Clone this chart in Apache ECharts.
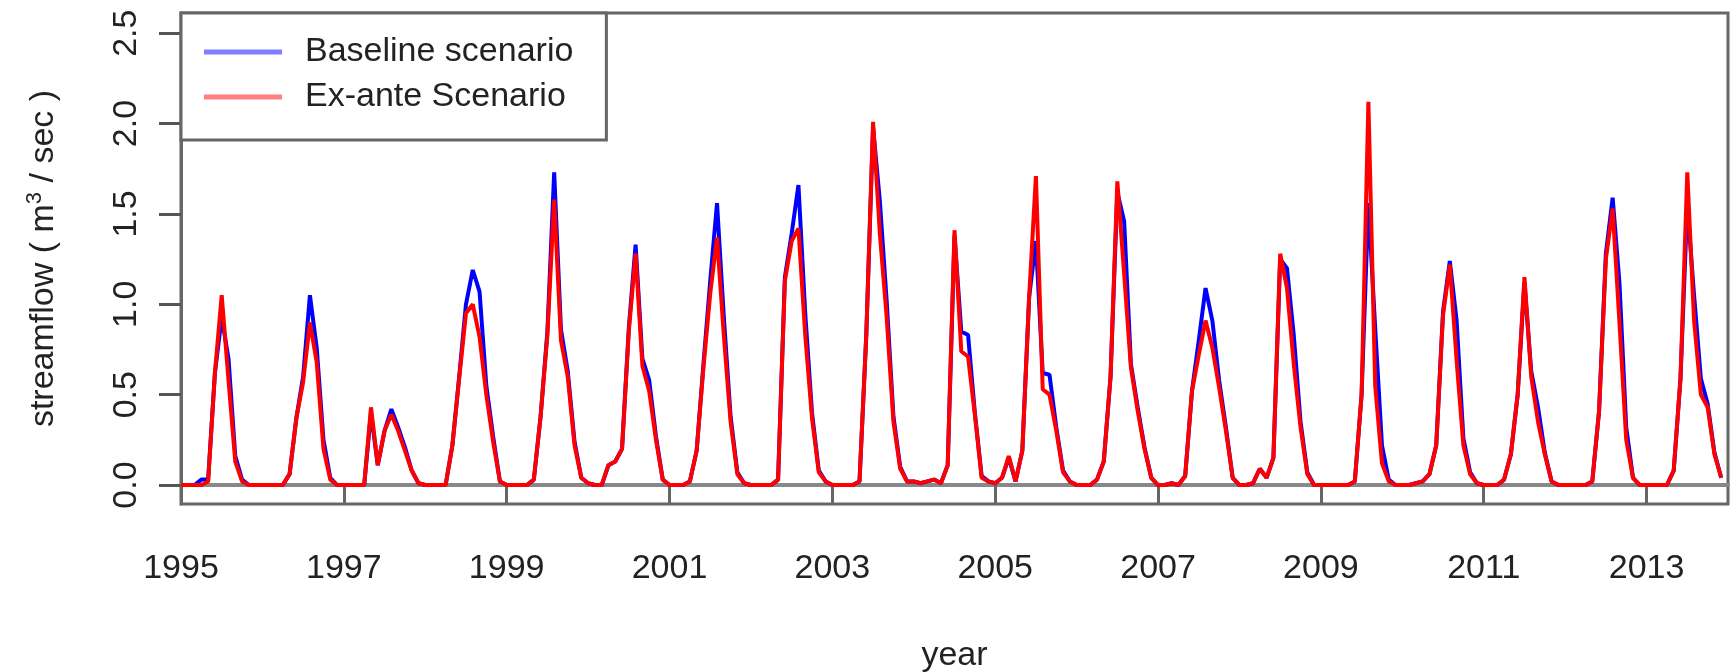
<!DOCTYPE html>
<html>
<head>
<meta charset="utf-8">
<script src="https://cdn.jsdelivr.net/npm/echarts@6/dist/echarts.min.js"></script>
<style>
html,body{margin:0;padding:0;background:#fff;}
#chart{width:1731px;height:672px;}
</style>
</head>
<body>
<div id="chart"></div>
<script>
// Monthly values, Jan 1995 .. Dec 2013
const startYear = 1995;
const baseline = [
  0,0,0,0.03,0.03,0.62,0.93,0.70,0.16,0.03,0,0,
  0,0,0,0,0.06,0.37,0.60,1.05,0.76,0.25,0.04,0,
  0,0,0,0,0.40,0.11,0.30,0.42,0.32,0.21,0.08,0.01,
  0,0,0,0,0.22,0.60,1.00,1.19,1.07,0.55,0.27,0.02,
  0,0,0,0,0.03,0.38,0.85,1.73,0.86,0.63,0.24,0.04,
  0.01,0,0,0.11,0.13,0.20,0.87,1.33,0.70,0.58,0.27,0.03,
  0,0,0,0.02,0.19,0.67,1.13,1.56,0.93,0.38,0.07,0.01,
  0,0,0,0,0.03,1.15,1.39,1.66,0.95,0.40,0.08,0.02,
  0,0,0,0,0.02,0.83,1.98,1.57,1.02,0.38,0.10,0.02,
  0.02,0.01,0.02,0.03,0.01,0.11,1.38,0.85,0.83,0.40,0.05,0.02,
  0.01,0.04,0.15,0.02,0.19,1.04,1.35,0.62,0.61,0.32,0.08,0.02,
  0,0,0,0.03,0.13,0.60,1.62,1.46,0.67,0.43,0.21,0.04,
  0,0,0.01,0,0.05,0.52,0.80,1.09,0.91,0.58,0.32,0.04,
  0,0,0.01,0.09,0.04,0.15,1.25,1.20,0.83,0.35,0.07,0,
  0,0,0,0,0,0.02,0.50,1.56,0.87,0.22,0.03,0,
  0,0,0.01,0.02,0.06,0.22,0.96,1.24,0.91,0.26,0.07,0.01,
  0,0,0,0.03,0.17,0.50,1.12,0.63,0.43,0.18,0.02,0,
  0,0,0,0,0.02,0.41,1.28,1.59,1.12,0.32,0.04,0,
  0,0,0,0,0.08,0.59,1.55,1.05,0.59,0.45,0.18,0.04
];
const exAnte = [
  0,0,0,0,0.02,0.62,1.05,0.58,0.13,0.02,0,0,
  0,0,0,0,0.06,0.37,0.57,0.90,0.68,0.20,0.03,0,
  0,0,0,0,0.43,0.11,0.30,0.39,0.30,0.19,0.08,0.01,
  0,0,0,0,0.22,0.59,0.95,1.00,0.82,0.50,0.24,0.02,
  0,0,0,0,0.03,0.38,0.83,1.58,0.80,0.60,0.22,0.04,
  0.01,0,0,0.11,0.13,0.20,0.85,1.28,0.66,0.52,0.25,0.03,
  0,0,0,0.02,0.19,0.65,1.06,1.37,0.83,0.35,0.06,0.01,
  0,0,0,0,0.03,1.13,1.35,1.42,0.83,0.37,0.07,0.02,
  0,0,0,0,0.02,0.83,2.01,1.39,0.93,0.35,0.09,0.02,
  0.02,0.01,0.02,0.03,0.01,0.11,1.41,0.74,0.71,0.39,0.04,0.02,
  0.01,0.04,0.16,0.02,0.19,1.04,1.71,0.53,0.50,0.30,0.07,0.02,
  0,0,0,0.03,0.13,0.60,1.68,1.17,0.65,0.41,0.20,0.04,
  0,0,0.01,0,0.05,0.52,0.72,0.91,0.76,0.54,0.30,0.04,
  0,0,0.01,0.09,0.04,0.15,1.28,1.09,0.67,0.32,0.06,0,
  0,0,0,0,0,0.02,0.50,2.12,0.55,0.12,0.02,0,
  0,0,0.01,0.02,0.06,0.22,0.94,1.22,0.69,0.22,0.06,0.01,
  0,0,0,0.03,0.17,0.50,1.15,0.60,0.35,0.17,0.02,0,
  0,0,0,0,0.02,0.41,1.25,1.53,0.90,0.25,0.04,0,
  0,0,0,0,0.08,0.59,1.73,0.91,0.50,0.43,0.17,0.04
];
const xTicks = [1995,1997,1999,2001,2003,2005,2007,2009,2011,2013];
const yTicks = [0,0.5,1,1.5,2,2.5];
const seriesNames = ['Baseline scenario','Ex-ante Scenario'];

function toPairs(arr){ return arr.map((v,i)=>[startYear + i/12, v]); }

const chart = echarts.init(document.getElementById('chart'), null, {renderer:'canvas'});
const FONT = '"Liberation Sans", Arial, sans-serif';
chart.setOption({
  animation:false,
  backgroundColor:'#ffffff',
  grid:{left:181, right:3, top:13, bottom:168, show:true, borderColor:'#666', borderWidth:3,
        containLabel:false, outerBoundsMode:'none'},
  legend:{
    left:181, top:13, orient:'vertical',
    padding:[19,33,23,23], itemGap:5,
    itemWidth:78, itemHeight:5,
    borderColor:'#666', borderWidth:3, backgroundColor:'#fff',
    textStyle:{fontFamily:FONT, fontSize:34, color:'#222', lineHeight:40, padding:[0,0,0,18]},
    data:[
      {name:seriesNames[0], icon:'rect', itemStyle:{color:'#8080ff'}},
      {name:seriesNames[1], icon:'rect', itemStyle:{color:'#ff8080'}}
    ]
  },
  xAxis:{
    type:'value', min:1995, max:2014,
    name:'year', nameLocation:'middle', nameGap:135,
    nameTextStyle:{fontFamily:FONT, fontSize:34, color:'#222'},
    axisLine:{show:true, lineStyle:{color:'#888', width:4}},
    axisTick:{show:true, inside:false, length:20, customValues:xTicks, lineStyle:{color:'#666', width:3}},
    axisLabel:{show:true, customValues:xTicks, margin:48, fontFamily:FONT, fontSize:34, color:'#222', formatter:v=>String(v)},
    splitLine:{show:false}
  },
  yAxis:{
    type:'value', min:-0.105, max:2.612,
    name:'{a|streamflow ( m}{s|3}{a| / sec )}', nameLocation:'middle', nameRotate:90, nameGap:117,
    nameTextStyle:{fontFamily:FONT, color:'#222',
      rich:{a:{fontFamily:FONT, fontSize:34, color:'#222', lineHeight:40},
            s:{fontFamily:FONT, fontSize:22, color:'#222', verticalAlign:'top', lineHeight:40}}},
    axisLine:{show:true, lineStyle:{color:'#666', width:3}},
    axisTick:{show:true, inside:false, length:22, customValues:yTicks, lineStyle:{color:'#555', width:3}},
    axisLabel:{show:true, customValues:yTicks, rotate:90, margin:37, fontFamily:FONT, fontSize:34, color:'#222', formatter:v=>v.toFixed(1)},
    splitLine:{show:false}
  },
  series:[
    {name:seriesNames[0], type:'line', data:toPairs(baseline), showSymbol:false, symbol:'none',
     lineStyle:{color:'#0000ff', width:4}, itemStyle:{color:'#0000ff'}, z:2},
    {name:seriesNames[1], type:'line', data:toPairs(exAnte), showSymbol:false, symbol:'none',
     lineStyle:{color:'#ff0000', width:4}, itemStyle:{color:'#ff0000'}, z:3}
  ]
});
</script>
</body>
</html>
